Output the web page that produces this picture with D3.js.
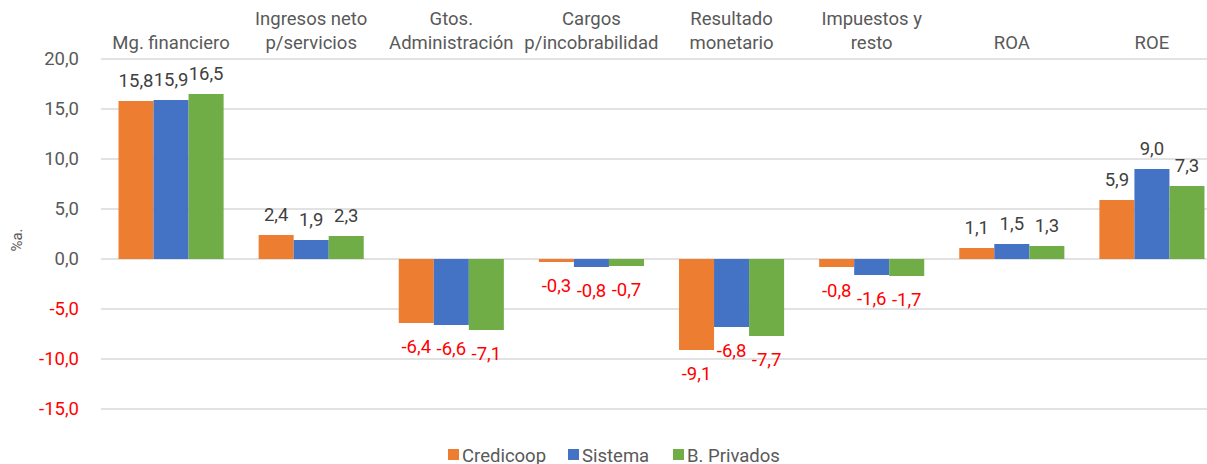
<!DOCTYPE html>
<html>
<head>
<script src="https://cdnjs.cloudflare.com/ajax/libs/d3/7.8.5/d3.min.js"></script>
<style>
  body { margin: 0; background: #fff; }
  svg { font-family: Roboto, "Liberation Sans", sans-serif; }
</style>
</head>
<body>
<div id="chart"></div>
<script>
const categories = [
  ["Mg. financiero"],
  ["Ingresos neto", "p/servicios"],
  ["Gtos.", "Administración"],
  ["Cargos", "p/incobrabilidad"],
  ["Resultado", "monetario"],
  ["Impuestos y", "resto"],
  ["ROA"],
  ["ROE"]
];
const seriesNames = ["Credicoop", "Sistema", "B. Privados"];
const credicoop = [15.8, 2.4, -6.4, -0.3, -9.1, -0.8, 1.1, 5.9];
const sistema = [15.9, 1.9, -6.6, -0.8, -6.8, -1.6, 1.5, 9.0];
const privados = [16.5, 2.3, -7.1, -0.7, -7.7, -1.7, 1.3, 7.3];
const yTicks = [20, 15, 10, 5, 0, -5, -10, -15];

const colors = ["#ED7D31", "#4472C4", "#70AD47"];
const series = [credicoop, sistema, privados];

const width = 1207, height = 464;
// plot area runs past the right edge of the picture, like the original
const plot = { left: 101, right: 1222, top: 59, bottom: 409 };
const fs = "18.5px";

const svg = d3.select("#chart").append("svg")
    .attr("width", width).attr("height", height);

const fmt = v => d3.format(".1f")(v).replace(".", ",").replace("−", "-");

const y = d3.scaleLinear().domain([-15, 20]).range([plot.bottom, plot.top]);
const x0 = d3.scaleBand()
    .domain(d3.range(categories.length))
    .range([plot.left, plot.right])
    .paddingInner(0.25).paddingOuter(0.125);
const x1 = d3.scaleBand().domain(d3.range(series.length)).range([0, x0.bandwidth()]);

// gridlines
svg.append("g").selectAll("line")
    .data(yTicks).enter().append("line")
    .attr("x1", plot.left).attr("x2", plot.right)
    .attr("y1", d => y(d)).attr("y2", d => y(d))
    .attr("stroke", "#d9d9d9").attr("stroke-width", 1.5);

// y tick labels
svg.append("g").selectAll("text")
    .data(yTicks).enter().append("text")
    .attr("x", 79).attr("y", d => y(d) + 6)
    .attr("text-anchor", "end")
    .style("font-size", fs)
    .attr("fill", d => d < 0 ? "#ff0000" : "#595959")
    .text(fmt);

svg.append("text")
    .attr("transform", "translate(22,240) rotate(-90)")
    .attr("text-anchor", "middle")
    .style("font-size", "15px")
    .attr("fill", "#595959")
    .text("%a.");

// category labels on top
categories.forEach(function(lines, i) {
    const cx = x0(i) + x0.bandwidth() / 2;
    const t = svg.append("text")
        .attr("text-anchor", "middle")
        .style("font-size", fs)
        .attr("fill", "#595959");
    lines.forEach(function(l, j) {
        const base = 49 - (lines.length - 1 - j) * 24;
        t.append("tspan").attr("x", cx).attr("y", base).text(l);
    });
});

// bars and labels
series.forEach(function(vals, s) {
    const g = svg.append("g");
    g.selectAll("rect")
        .data(vals).enter().append("rect")
        .attr("x", (d, i) => x0(i) + x1(s))
        .attr("width", x1.bandwidth())
        .attr("y", d => y(Math.max(0, d)))
        .attr("height", d => Math.abs(y(d) - y(0)))
        .attr("fill", colors[s]);
    g.selectAll("text")
        .data(vals).enter().append("text")
        .attr("x", (d, i) => x0(i) + x1(s) + x1.bandwidth() / 2)
        .attr("y", d => d >= 0 ? y(d) - 14 : y(d) + 30)
        .attr("text-anchor", "middle")
        .style("font-size", fs)
        .attr("fill", d => d < 0 ? "#ff0000" : "#404040")
        .text(fmt);
});

// legend
const legendX = [448, 568, 673];
seriesNames.forEach(function(name, s) {
    svg.append("rect")
        .attr("x", legendX[s]).attr("y", 449)
        .attr("width", 11).attr("height", 11)
        .attr("fill", colors[s]);
    svg.append("text")
        .attr("x", legendX[s] + 14).attr("y", 462)
        .style("font-size", fs)
        .attr("fill", "#595959")
        .text(name);
});
</script>
</body>
</html>
